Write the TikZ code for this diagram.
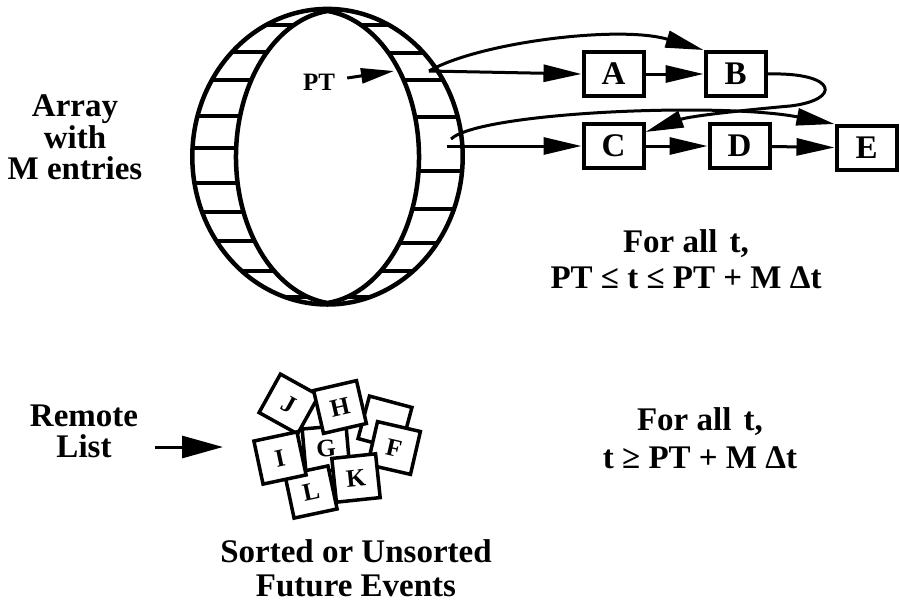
\documentclass[tikz,border=0pt]{standalone}
\usepackage{fontspec}
\setmainfont{Liberation Serif}
\usetikzlibrary{positioning,arrows.meta}
\newcommand{\bigbf}[1]{\bfseries\fontsize{33}{#1}\selectfont}
\newcommand{\cardbf}{\bfseries\fontsize{25}{25}\selectfont}

\begin{document}
\begin{tikzpicture}[x=1pt, y=-1pt,
  lbl/.style={align=center, inner sep=0pt, font=\bigbf{#1}},
  lbl/.default=34,
  rec/.style={draw, line width=4pt, minimum width=60pt, minimum height=44pt, inner sep=0pt, font=\bigbf{33}},
  card/.style={draw, fill=white, line width=3.5pt, minimum size=44pt, inner sep=0pt, font=\cardbf},
  link/.style={-{Triangle[length=38pt,width=17pt]}, line width=3pt},
  ring/.style={line width=4.5pt},
  slot/.style={line width=3.5pt}]
\useasboundingbox (0,0) rectangle (900,606);
% ring of M entries
\begin{scope}
  \clip (327.5,156.7) ellipse [x radius=135.2, y radius=147.8];
  \foreach \y in {25,52,80,116,148,183,212,241,271,297}
    \draw[slot] (150,\y) -- (327.5,\y);
  \foreach \y in {25,53,80,117,171,209,243,271,297}
    \draw[slot] (327.5,\y) -- (500,\y);
\end{scope}
\draw[ring, fill=white] (327.5,11) arc[start angle=263.3, end angle=96.7, x radius=103.6, y radius=147]
  arc[start angle=83.3, end angle=-83.3, x radius=103.6, y radius=147] -- cycle;
\draw[ring] (327.5,156.7) ellipse [x radius=135.2, y radius=147.8];
\coordinate (slota) at (429,71);
\coordinate (slotb) at (447,146);
\coordinate (slotbc) at (451,139);
\coordinate (pttip) at (394,71);
\coordinate (heapin) at (223,447);
\node[inner sep=0pt, font=\cardbf] (pt) at (319,82) {PT};
\draw[link, -{Triangle[length=33pt,width=15pt]}] ([xshift=12pt,yshift=4pt]pt.east) -- (pttip);
\node[lbl=31.5] (array) at (75,137.5) {Array\\with\\M entries};
% event lists
\node[rec] (a) at (613.5,74) {A};
\node[rec, right=58pt of a] (b) {B};
\node[rec, below=24pt of a] (c) {C};
\node[rec, right=62pt of c] (d) {D};
\node[rec, right=63pt of d, yshift=-2pt] (e) {E};
\draw[link] (slota) -- (a.west);
\draw[link] (slota) .. controls (480,42) and (620,25) .. (b.north west);
\draw[link] (a) -- (b);
\draw[link] (b.east) .. controls (838,72) and (842,100) .. (790,106)
  .. controls (745,110) and (690,116) .. ([yshift=-10pt]c.north east);
\draw[link] (slotb) -- (c.west);
\draw[link] (slotbc) .. controls (480,112) and (720,102) .. (e.north west);
\draw[link] (c) -- (d);
\draw[link] (d) -- (e);
\node[lbl=36] (rangea) at (686,259) {For all\hspace{4pt} t,\\PT ≤ t ≤ PT + M Δt};
% remote list
\node[lbl=31] (remote) at (84,431) {Remote\\List};
\draw[link, -{Triangle[length=41pt,width=22pt]}] ([xshift=17pt]remote.east |- heapin) -- (heapin);
\node[card, rotate=-15] (blank) at (385,423) {};
\node[card, rotate=5] (g) at (326,449) {G};
\node[card, rotate=12] (l) at (311,492) {L};
\node[card, rotate=-29] (j) at (289,404) {J};
\node[card, rotate=13] (h) at (340,407) {H};
\node[card, rotate=12] (i) at (280,458) {I};
\node[card, rotate=-13] (f) at (394,448) {F};
\node[card, rotate=6] (k) at (356,478) {K};
\node[lbl=34] (sorted) at (356,568.5) {Sorted or Unsorted\\Future Events};
\node[lbl=38] (rangeb) at (700,438) {For all\hspace{4pt} t,\\t ≥ PT + M Δt};
\end{tikzpicture}
\end{document}
